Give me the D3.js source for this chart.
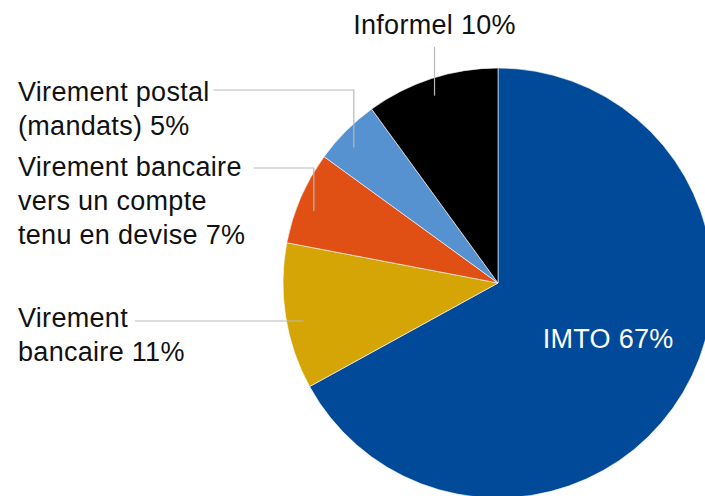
<!DOCTYPE html>
<html>
<head>
<meta charset="utf-8">
<script src="https://cdn.jsdelivr.net/npm/d3@7"></script>
<style>
  html, body { margin: 0; padding: 0; background: #fff; overflow: hidden; }
  svg { display: block; }
  text { font-family: "Liberation Sans", Arial, Helvetica, sans-serif; font-size: 27px; letter-spacing: 0.3px; }
</style>
</head>
<body>
<svg id="chart" width="705" height="496"></svg>
<script>
// Répartition des transferts par canal (en %)
const categories = ["IMTO", "Virement bancaire", "Virement bancaire vers un compte tenu en devise", "Virement postal (mandats)", "Informel"];
const values = [67, 11, 7, 5, 10];
const colors = ["#004a99", "#d4a505", "#e05015", "#5592cf", "#000000"];
// Label text lines, one array per slice
const labelLines = [
  ["IMTO 67%"],
  ["Virement", "bancaire 11%"],
  ["Virement bancaire", "vers un compte", "tenu en devise 7%"],
  ["Virement postal", "(mandats) 5%"],
  ["Informel 10%"]
];

const width = 705, height = 496;
const cx = 498, cy = 283, radius = 215;
const lineH = 34;

const svg = d3.select("#chart");
const g = svg.append("g").attr("transform", `translate(${cx},${cy})`);

const pie = d3.pie().sort(null).value(d => d.value).startAngle(0).endAngle(2 * Math.PI);
const data = categories.map((c, i) => ({ cat: c, value: values[i], color: colors[i], lines: labelLines[i] }));
const arcs = pie(data);

const arc = d3.arc().innerRadius(0).outerRadius(radius);

g.selectAll("path.slice")
  .data(arcs)
  .enter().append("path")
  .attr("class", "slice")
  .attr("d", arc)
  .attr("fill", d => d.data.color)
  .attr("stroke", "#ffffff")
  .attr("stroke-width", 0.6);

// point on the circle for a given angle (clockwise from 12 o'clock) and radius
const polar = (a, r) => [r * Math.sin(a), -r * Math.cos(a)];
// angle a fraction of the way through a slice
const along = (d, f) => d.startAngle + f * (d.endAngle - d.startAngle);

// Inside label for the main slice
const main = arcs[0];
const [mx, my] = polar(along(main, 0.5), radius * 0.595);
g.append("text")
  .attr("x", mx).attr("y", my)
  .attr("text-anchor", "middle")
  .attr("fill", "#ffffff")
  .text(main.data.lines[0]);

// Outside labels with leader lines (layout in page coordinates)
const outside = [
  { i: 1, tx: 18, ty: 327, lineY: 321, gap: 7, f: 0.47 },
  { i: 2, tx: 18, ty: 176, lineY: 168, gap: 12, f: 0.42 },
  { i: 3, tx: 18, ty: 101, lineY: 90, gap: 4, f: 0.4 },
  { i: 4, tx: null, ty: 34, lineY: 47, gap: 0, f: 0.48 }
];

const leaderColor = "#b9b9b9";
const labelLayer = svg.append("g");

outside.forEach(o => {
  const d = arcs[o.i];
  const [ex, ey] = polar(along(d, o.f), radius * 0.92);
  const endX = cx + ex, endY = cy + ey;
  const t = labelLayer.append("text").attr("fill", "#111");
  if (o.tx === null) {
    // centred above the slice, vertical leader
    t.attr("x", endX).attr("y", o.ty).attr("text-anchor", "middle").text(d.data.lines[0]);
    labelLayer.append("path")
      .attr("d", `M${endX},${o.lineY}V${endY}`)
      .attr("fill", "none").attr("stroke", leaderColor).attr("stroke-width", 1.2);
    return;
  }
  d.data.lines.forEach((ln, k) => {
    t.append("tspan").attr("x", o.tx).attr("y", o.ty + k * lineH).text(ln);
  });
  const firstW = t.select("tspan").node().getComputedTextLength();
  const startX = o.tx + firstW + o.gap;
  let p;
  if (Math.abs(endY - o.lineY) < 12) {
    p = `M${startX},${o.lineY}H${endX}`;
  } else {
    p = `M${startX},${o.lineY}H${endX}V${endY}`;
  }
  labelLayer.append("path")
    .attr("d", p)
    .attr("fill", "none").attr("stroke", leaderColor).attr("stroke-width", 1.2);
});
</script>
</body>
</html>
